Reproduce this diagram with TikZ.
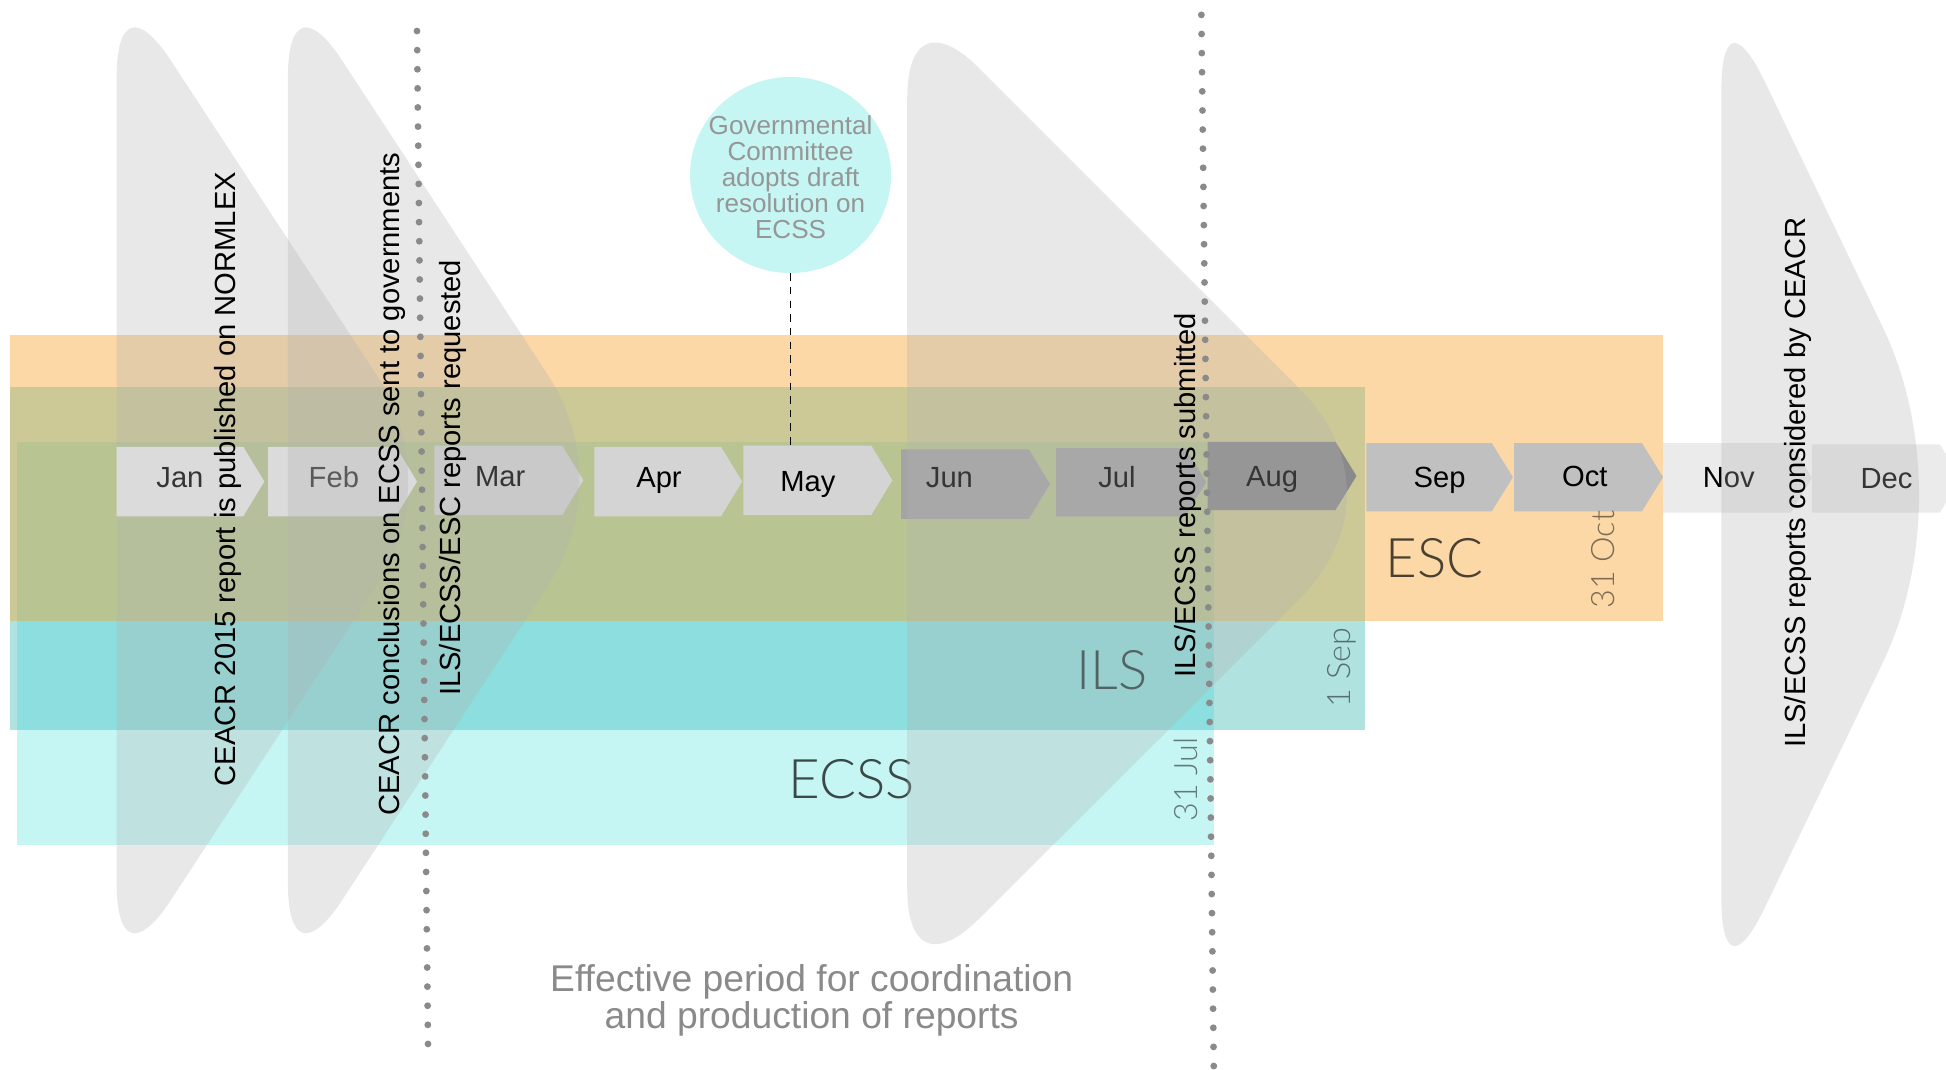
\documentclass[tikz,border=0pt]{standalone}
\usepackage{fontspec}
\setmainfont{Liberation Sans}
\IfFontExistsTF{Lato Light}{\newfontfamily\thinfont{Lato Light}}{\newfontfamily\thinfont{Liberation Sans}}
\usetikzlibrary{calc,shapes.geometric}
\definecolor{escC}{HTML}{FBD8A6}
\definecolor{ilsC}{HTML}{B0E2E0}
\definecolor{escilsC}{HTML}{CDC996}
\definecolor{ecssC}{HTML}{C5F6F3}
\definecolor{ilsecssC}{HTML}{8DDEDE}
\definecolor{allC}{HTML}{B8C592}
\definecolor{chevC}{HTML}{B2B2B2}
\definecolor{dotC}{HTML}{8A8A8A}
\definecolor{monA}{HTML}{EEEEEE}
\definecolor{monB}{HTML}{D4D4D4}
\definecolor{monC}{HTML}{A4A4A4}
\definecolor{monD}{HTML}{8A8A8A}
\definecolor{monE}{HTML}{C0C0C0}
\definecolor{monF}{HTML}{EBEBEB}
\definecolor{govtext}{HTML}{969696}
\definecolor{efftext}{HTML}{8A8A8A}
\tikzset{
 monthtext/.style={anchor=base, font=\fontsize{23.5}{28}\selectfont, text=black, inner sep=0},
 chevfill/.style={fill=chevC, fill opacity=0.3},
 vlabel/.style={rotate=90, anchor=base, font=\fontsize{23.5}{28}\selectfont, text=black, inner sep=0},
 biglabel/.style={font=\thinfont\fontsize{44}{48}\selectfont, text=black, text opacity=0.7, inner sep=0},
 datelabel/.style={rotate=90, anchor=base, font=\thinfont\fontsize{26}{28}\selectfont, text=black, text opacity=0.5, inner sep=0},
 dotline/.style={draw=dotC, line width=5.5, line cap=round, dash pattern=on 0pt off 15.4pt},
 linkline/.style={draw=black, line width=1.2, dash pattern=on 6pt off 5pt},
}
\newcommand\mon[9]{%
  \fill[#6] (#2,#4) -- (#3,#4) -- ({#3+17},{(#4+#5)/2}) -- (#3,#5) -- (#2,#5) -- cycle;
  \node[monthtext] (#1) at (#7,#8) {#9};
}
\newcommand\chev[7]{%
 \coordinate (cT) at (#1,#2);
 \coordinate (cB) at (#1,#3);
 \coordinate (cP) at (#4,#5);
 \coordinate (t1) at ($(cT)!#6!(cB)$);
 \coordinate (t2) at ($(cT)!#6!(cP)$);
 \coordinate (p1) at ($(cP)!#7!(cT)$);
 \coordinate (p2) at ($(cP)!#7!(cB)$);
 \coordinate (b1) at ($(cB)!#6!(cP)$);
 \coordinate (b2) at ($(cB)!#6!(cT)$);
 \fill[chevfill] (t1) .. controls ($(cT)!0.4!(t1)$) and ($(cT)!0.4!(t2)$) .. (t2)
   -- (p1) .. controls ($(cP)!0.4!(p1)$) and ($(cP)!0.4!(p2)$) .. (p2)
   -- (b1) .. controls ($(cB)!0.4!(b1)$) and ($(cB)!0.4!(b2)$) .. (b2) -- cycle;
}
\begin{document}
\begin{tikzpicture}[x=1pt,y=-1pt]
\useasboundingbox (0,0) rectangle (1568,862);
% bands
\fill[escC] (8,270) rectangle (1340,500);
\fill[ilsC] (8,312) rectangle (1100,588);
\fill[escilsC] (8,312) rectangle (1100,500);
\fill[ecssC] (14,356) rectangle (978,681);
\fill[ilsecssC] (14,356) rectangle (978,588);
\fill[allC] (14,356) rectangle (978,500);
% months
\mon{jan}{94}{196}{360}{416}{monA}{145}{393}{Jan}
\mon{feb}{216}{319}{360}{416}{monA}{269}{393}{Feb}
\mon{mar}{350}{453}{359}{415}{monB}{403}{392}{Mar}
\mon{apr}{479}{581}{360}{416}{monB}{531}{393}{Apr}
\mon{may}{599}{702}{359}{415}{monB}{651}{396}{May}
\mon{jun}{726}{829}{362}{418}{monC}{765}{393}{Jun}
\mon{jul}{851}{955}{361}{416}{monC}{900}{393}{Jul}
\mon{aug}{973}{1076}{356}{411}{monD}{1025}{392}{Aug}
\mon{sep}{1101}{1202}{357}{412}{monE}{1160}{393}{Sep}
\mon{oct}{1220}{1323}{357}{412}{monE}{1277}{392}{Oct}
\mon{nov}{1340}{1443}{357}{413}{monF}{1393}{393}{Nov}
\mon{dec}{1460}{1563}{358}{413}{monF}{1520}{394}{Dec}
% big labels
\node[biglabel] (ils) at (896,540) {ILS};
\node[biglabel] (esc) at (1156,450) {ESC};
\node[biglabel] (ecss) at (686,628) {ECSS};
\node[datelabel] (sep1) at (1088,538) {1 Sep};
\node[datelabel] (jul31) at (965,628) {31 Jul};
\node[datelabel] (oct31) at (1301,451) {31 Oct};
% chevrons
\chev{94}{-18}{792}{359}{387}{80pt}{100pt}
\chev{232}{-18}{792}{497}{387}{80pt}{100pt}
\chev{731}{-3}{798}{1132}{398}{82pt}{120pt}
\chev{1387}{-7}{804}{1582}{399}{80pt}{150pt}
% governmental committee
\node[ellipse, fill=ecssC, minimum width=162, minimum height=158, inner sep=0] (gov) at (637,141) {};
\node[text=govtext, align=center, font=\fontsize{21}{21}\selectfont, inner sep=0] (govtxt) at (637,143) {Governmental\\Committee\\adopts draft\\resolution on\\ECSS};
\coordinate (maytop) at (637,359);
\draw[linkline] (gov.south) -- (maytop);
% dotted deadlines
\coordinate (d1a) at (336,25);
\coordinate (d1b) at (345,852);
\coordinate (d2a) at (968,12);
\coordinate (d2b) at (978,860);
\draw[dotline] (d1a) -- (d1b);
\draw[dotline] (d2a) -- (d2b);
% vertical texts
\node[vlabel] (t1) at (190,386) {CEACR 2015 report is published on NORMLEX};
\node[vlabel] (t2) at (322,390) {CEACR conclusions on ECSS sent to governments};
\node[vlabel] (t3) at (371,385) {ILS/ECSS/ESC reports requested};
\node[vlabel] (t4) at (963,399) {ILS/ECSS reports submitted};
\node[vlabel] (t5) at (1455,389) {ILS/ECSS reports considered by CEACR};
% bottom text
\node[align=center, text=efftext, font=\fontsize{30}{29.5}\selectfont, inner sep=0] (eff) at (654,806) {Effective period for coordination\\and production of reports};
\end{tikzpicture}
\end{document}
